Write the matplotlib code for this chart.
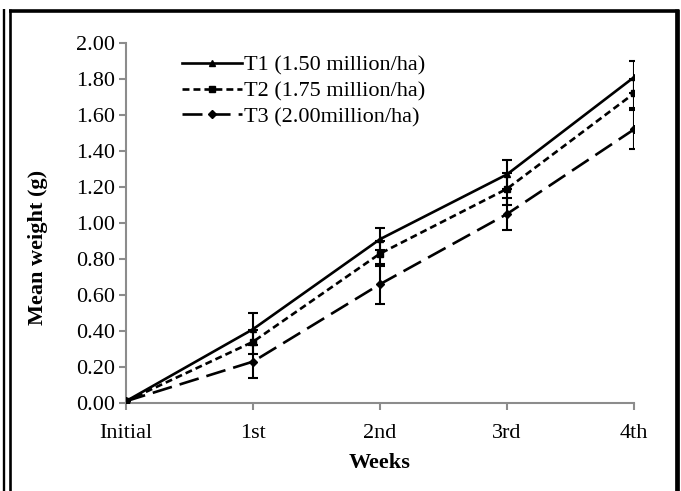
import matplotlib
matplotlib.use("Agg")
import matplotlib.pyplot as plt
from matplotlib.lines import Line2D

plt.rcParams['font.family'] = ['Liberation Serif', 'DejaVu Serif']
plt.rcParams['lines.scale_dashes'] = False

weeks = ["Initial", "1st", "2nd", "3rd", "4th"]
labels = ["T1 (1.50 million/ha)", "T2 (1.75 million/ha)", "T3 (2.00million/ha)"]
t1 = [0.01, 0.41, 0.91, 1.27, 1.81]
t1_err = [0.005, 0.09, 0.06, 0.08, 0.09]
t2 = [0.01, 0.34, 0.83, 1.19, 1.72]
t2_err = [0.005, 0.065, 0.07, 0.09, 0.08]
t3 = [0.01, 0.23, 0.66, 1.05, 1.52]
t3_err = [0.005, 0.09, 0.11, 0.09, 0.11]
yticks = [0.0, 0.2, 0.4, 0.6, 0.8, 1.0, 1.2, 1.4, 1.6, 1.8, 2.0]

W, H = 681, 491
fig = plt.figure(figsize=(W / 100, H / 100), dpi=100)
ax = fig.add_axes([126 / W, (H - 403) / H, (634 - 126) / W, (403 - 43) / H])

x = list(range(len(weeks)))
styles = [
    dict(marker='^', dashes=None),
    dict(marker='s', dashes=(5.0, 2.9)),
    dict(marker='D', dashes=(14.4, 5.8)),
]
series = [(t1, t1_err), (t2, t2_err), (t3, t3_err)]
handles = []
for (vals, errs), st, lab in zip(series, styles, labels):
    ax.errorbar(x, vals, yerr=errs, fmt='none', ecolor='black', elinewidth=1.5,
                capsize=3.6, capthick=1.5, zorder=2, clip_on=True)
    ln, = ax.plot(x, vals, color='black', linewidth=1.9, marker=st['marker'],
                  markersize=4, label=lab, zorder=3)
    if st['dashes'] is not None:
        ln.set_dashes(st['dashes'])
    handles.append(ln)

ax.set_xlim(0, 4)
ax.set_ylim(0, 2.0)
ax.set_xticks(x)
ax.set_xticklabels(weeks)
ax.set_yticks(yticks)
ax.set_yticklabels([f"{v:.2f}" for v in yticks])

grey = '#8c8c8c'
for side in ['top', 'right']:
    ax.spines[side].set_visible(False)
for side in ['left', 'bottom']:
    ax.spines[side].set_color(grey)
    ax.spines[side].set_linewidth(1.5)
ax.tick_params(axis='both', colors=grey, labelcolor='black', labelsize=16,
               length=5, width=1.5, direction='out')
ax.tick_params(axis='y', pad=3)
ax.tick_params(axis='x', pad=10)

fig.text(380 / W, 1 - 463 / H, "Weeks", fontsize=16, fontweight='bold',
         ha='center', va='center')
fig.text(38 / W, 1 - 247 / H, "Mean weight (g)", fontsize=16, fontweight='bold',
         ha='center', va='center', rotation=90)

leg = ax.legend(handles=handles, loc='upper left', bbox_to_anchor=(0.11, 0.967),
                frameon=False, fontsize=16, handlelength=2.7, handletextpad=0.1,
                labelspacing=0.24, borderpad=0, borderaxespad=0)

# outer frame
def fl(x0, y0, x1, y1, lw):
    fig.add_artist(Line2D([x0 / W, x1 / W], [1 - y0 / H, 1 - y1 / H],
                          transform=fig.transFigure, color='black',
                          linewidth=lw, solid_capstyle='butt'))

fl(3.8, 9, 3.8, H, 1.7)
fl(10.3, 9, 10.3, H, 1.9)
fl(9, 10.7, 679, 10.7, 2.6)
fl(676.5, 9, 676.5, H, 3.4)

fig.savefig("out.png", dpi=100)
